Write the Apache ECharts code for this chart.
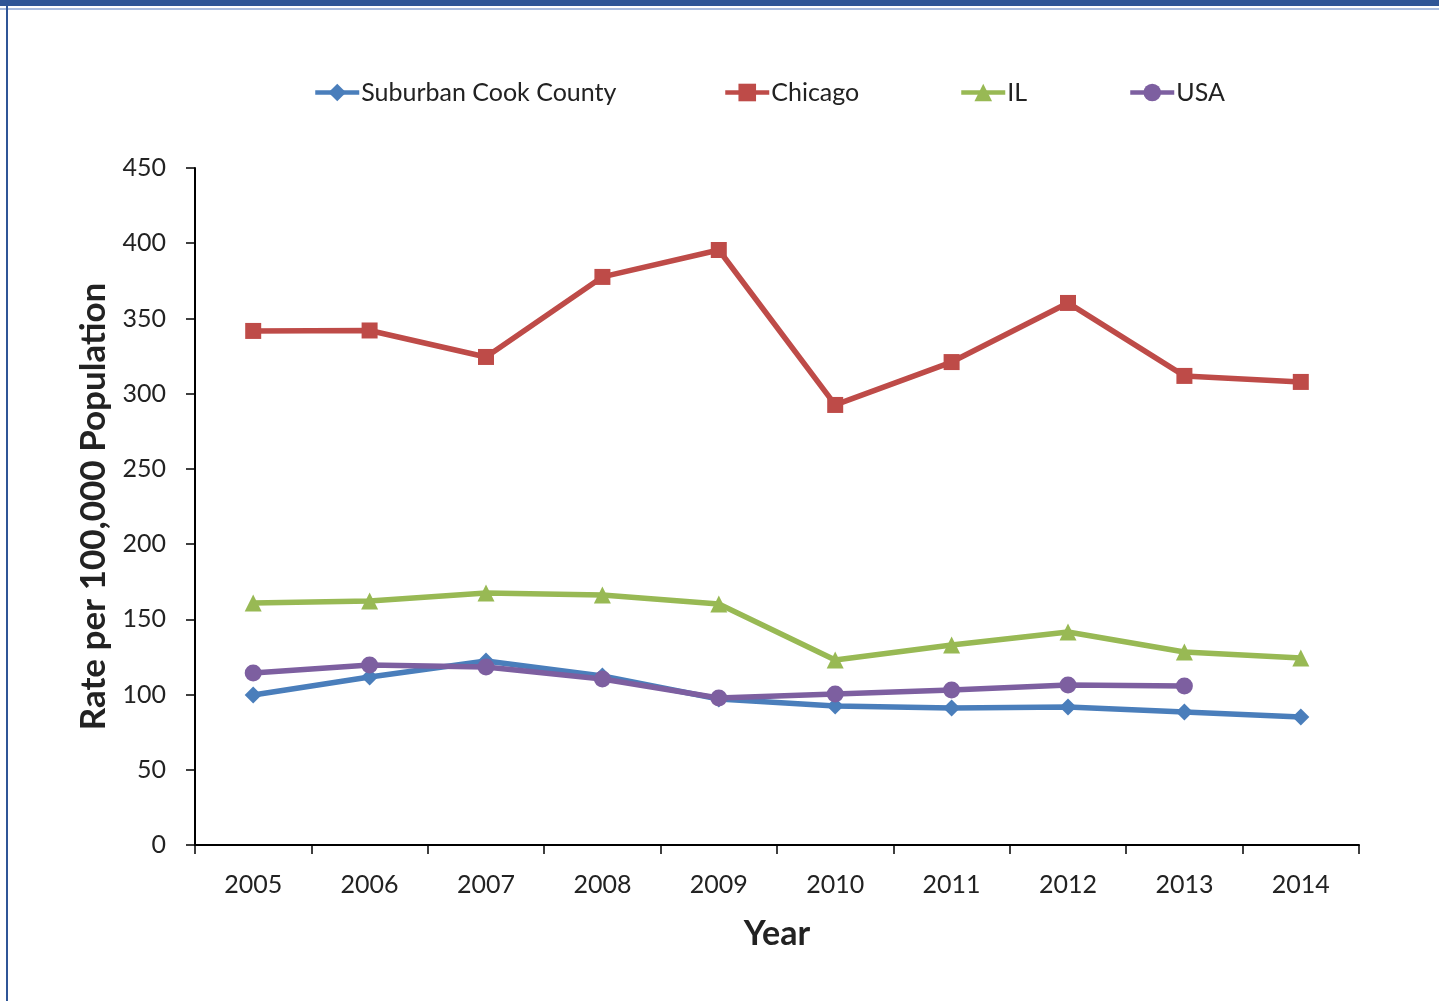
<!DOCTYPE html>
<html><head><meta charset="utf-8">
<script src="https://cdn.jsdelivr.net/npm/echarts@6/dist/echarts.min.js"></script>
<style>
html,body{margin:0;padding:0;background:#fff;}
#frame{position:absolute;left:0;top:0;width:1439px;height:1001px;overflow:hidden;}
#topbar{position:absolute;left:0;top:0;width:1439px;height:6px;background:#2F5597;}
#topline2{position:absolute;left:0;top:8px;width:1439px;height:2px;background:#A9BCE0;}
#leftbar{position:absolute;left:6px;top:6px;width:2px;height:995px;background:#2F5597;}
#chart{position:absolute;left:0;top:0;width:1439px;height:1001px;}
</style></head>
<body>
<div id="frame">
<div id="chart"></div>
<div id="topbar"></div><div id="topline2"></div><div id="leftbar"></div>
</div>
<script>
const years = ['2005','2006','2007','2008','2009','2010','2011','2012','2013','2014'];
const suburban = [99.7, 111.7, 122.3, 112.3, 97, 92.4, 91, 91.7, 88.4, 85.1];
const chicago = [341.7, 342, 324.4, 377.6, 395.5, 292.5, 321, 360.3, 311.8, 307.8];
const il = [160.9, 162.2, 167.5, 166.2, 160.2, 123, 133, 141.6, 128.3, 124.3];
const usa = [114.3, 119.6, 118.3, 110.3, 97.7, 100.4, 103, 106.4, 105.7, null];
const yTicks = [0, 50, 100, 150, 200, 250, 300, 350, 400, 450];

const FONT = 'Lato, "Open Sans", sans-serif';
const chart = echarts.init(document.getElementById('chart'));
function legendAt(name, left){
  return {data:[name], left:left, top:75, itemWidth:44, itemHeight:22, itemGap:0,
    lineStyle:{width:4.5},
    textStyle:{fontFamily:FONT, fontSize:25, color:'#222', padding:[0,0,0,-3]}};
}
function ser(name, data, color, symbol, size){
  return {name:name, type:'line', data:data, symbol:symbol, symbolSize:size,
    lineStyle:{color:color, width:5.5}, itemStyle:{color:color}, color:color,
    showAllSymbol:true, animation:false, connectNulls:false};
}
chart.setOption({
  animation:false,
  legend:[
    legendAt('Suburban Cook County', 308),
    legendAt('Chicago', 718),
    legendAt('IL', 954),
    legendAt('USA', 1123)
  ],
  grid:{left:195, right:80, top:168, bottom:156, containLabel:false},
  xAxis:{type:'category', data:years, boundaryGap:true,
    name:'Year', nameLocation:'middle', nameGap:72,
    nameTextStyle:{fontFamily:FONT, fontSize:34, fontWeight:'bold', color:'#222'},
    axisLine:{lineStyle:{color:'#000', width:2}},
    axisTick:{show:true, length:9, lineStyle:{color:'#000', width:1.5}},
    axisLabel:{fontFamily:FONT, fontSize:25, color:'#222', margin:27}},
  yAxis:{type:'value', min:0, max:450, interval:50,
    name:'Rate per 100,000 Population', nameLocation:'middle', nameGap:84,
    nameTextStyle:{fontFamily:FONT, fontSize:35, fontWeight:'bold', color:'#222'},
    axisLine:{show:true, lineStyle:{color:'#000', width:2}},
    axisTick:{show:true, length:9, lineStyle:{color:'#000', width:1.5}},
    splitLine:{show:false},
    axisLabel:{fontFamily:FONT, fontSize:25, color:'#222', margin:29,
      formatter:function(v){return yTicks.indexOf(v)>=0 ? String(v) : '';}}},
  series:[
    ser('Suburban Cook County', suburban, '#4A7EBB', 'diamond', 17),
    ser('Chicago', chicago, '#BE4B48', 'rect', 16),
    ser('IL', il, '#98B954', 'triangle', 17),
    ser('USA', usa, '#7D5FA0', 'circle', 17)
  ]
});
</script>
</body></html>
